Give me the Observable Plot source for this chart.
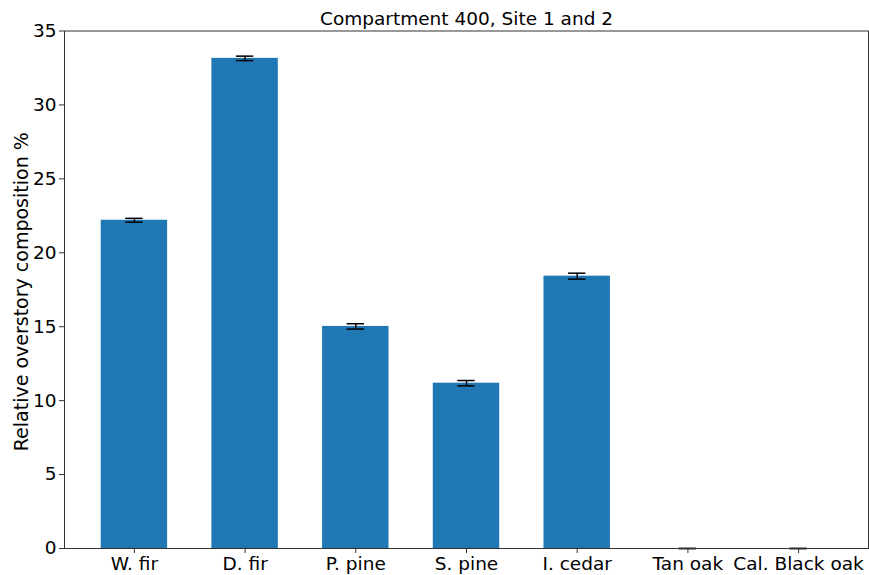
<!DOCTYPE html>
<html>
<head>
<meta charset="utf-8">
<script src="https://cdn.jsdelivr.net/npm/d3@7"></script>
<script src="https://cdn.jsdelivr.net/npm/@observablehq/plot@0.6"></script>
<style>
  html, body { margin: 0; padding: 0; background: #fff; }
  svg { font-family: "DejaVu Sans", sans-serif; }
</style>
</head>
<body>
<div id="chart"></div>
<script>
const species = ["W. fir", "D. fir", "P. pine", "S. pine", "I. cedar", "Tan oak", "Cal. Black oak"];
const composition = [22.2, 33.15, 15.02, 11.18, 18.42, 0, 0];
const errors = [0.13, 0.15, 0.18, 0.18, 0.2, 0, 0];
const yTicks = [0, 5, 10, 15, 20, 25, 30, 35];

const data = species.map((s, i) => ({species: s, value: composition[i], err: errors[i]}));

const chart = Plot.plot({
  width: 869,
  height: 575,
  marginLeft: 64,
  marginRight: 1,
  marginTop: 30.5,
  marginBottom: 27,
  style: {fontFamily: "DejaVu Sans, sans-serif", fontSize: "18.5px", color: "black", background: "white"},
  x: {domain: species, paddingInner: 0.4, paddingOuter: 0.3315, round: false, label: null},
  y: {domain: [0, 35], ticks: yTicks, label: null},
  marks: [
    Plot.barY(data, {x: "species", y: "value", fill: "#1f77b4"}),
    Plot.ruleX(data, {x: "species", y1: d => d.value - d.err, y2: d => d.value + d.err, stroke: "black", strokeWidth: 1.5}),
    Plot.tickY(data, {x: "species", y: d => d.value - d.err, stroke: "black", strokeWidth: 1.5, insetLeft: 24.5, insetRight: 24.5}),
    Plot.tickY(data, {x: "species", y: d => d.value + d.err, stroke: "black", strokeWidth: 1.5, insetLeft: 24.5, insetRight: 24.5}),
    Plot.frame({stroke: "#333", strokeWidth: 1}),
    Plot.axisY({ticks: yTicks, tickSize: 5, tickPadding: 3, fontSize: 18.5, label: null, stroke: "#333"}),
    Plot.axisX({tickSize: 5, tickPadding: 3, fontSize: 18.5, label: null, stroke: "#333"}),
    Plot.text(["Relative overstory composition %"], {frameAnchor: "left", dx: -43, dy: 2, rotate: -90, fontSize: 19, fill: "black", textAnchor: "middle", lineAnchor: "middle"}),
    Plot.text(["Compartment 400, Site 1 and 2"], {frameAnchor: "top", dy: -12, lineAnchor: "middle", fontSize: 18.5, fill: "black"})
  ]
});
document.getElementById("chart").appendChild(chart);
</script>
</body>
</html>
